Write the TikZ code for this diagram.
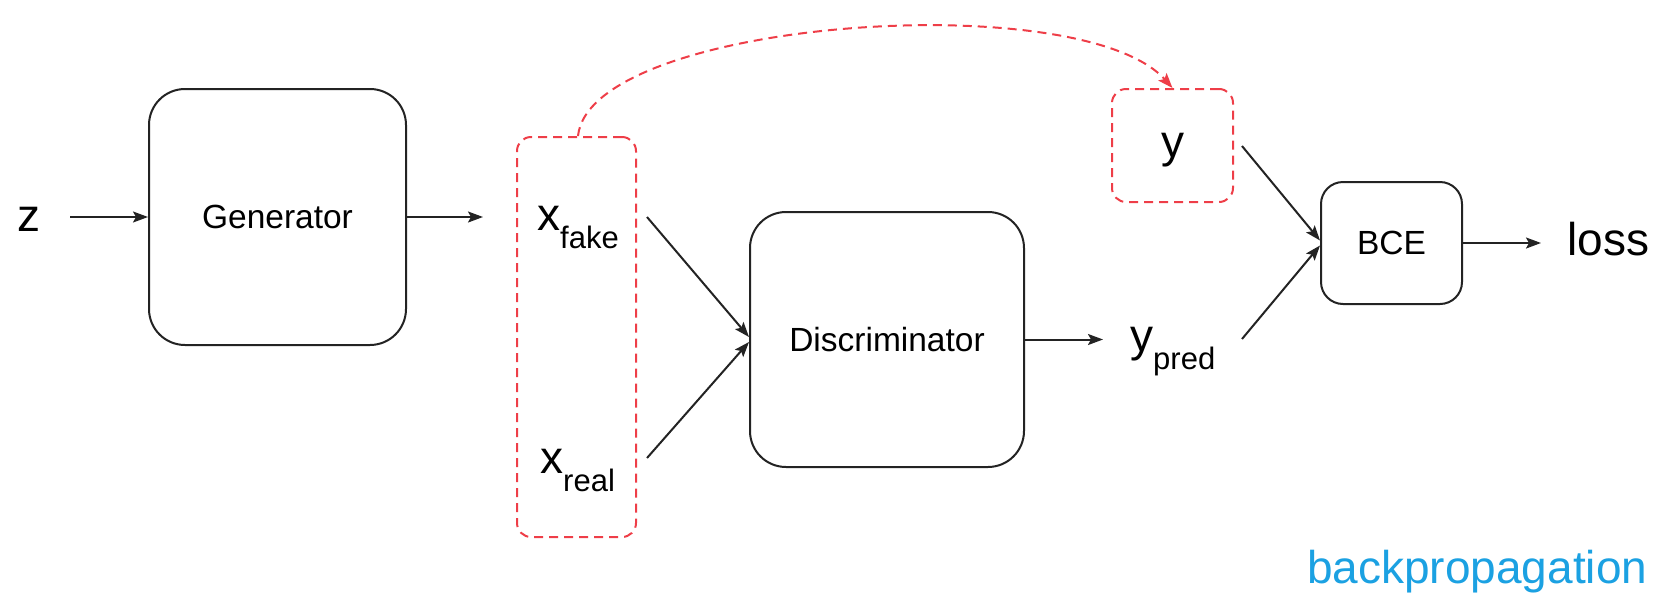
\documentclass[tikz,border=0pt]{standalone}
\usepackage{fontspec}
\setmainfont{Liberation Sans}
\usetikzlibrary{arrows.meta}
\definecolor{dred}{RGB}{238,62,72}
\definecolor{bpblue}{RGB}{27,161,226}
\definecolor{lin}{RGB}{35,35,35}
\newcommand{\bigtxt}{\fontsize{46}{52}\selectfont}
\newcommand{\subtxt}{\fontsize{31}{36}\selectfont}
\newcommand{\boxtxt}{\fontsize{33.5}{40}\selectfont}
\newcommand{\mysub}[1]{\raisebox{-18pt}{\subtxt #1}}
\begin{document}
\begin{tikzpicture}[x=1pt,y=-1pt,
  blk/.style={draw=lin, line width=2pt, rounded corners=#1, inner sep=0pt, text depth=0pt, font=\boxtxt},
  blk/.default=36pt,
  redbox/.style={draw=dred, line width=2pt, dash pattern=on 9pt off 6pt, rounded corners=14pt, inner sep=0pt},
  arr/.style={draw=lin, line width=2pt, -{Stealth[length=15pt,width=11pt,inset=3pt]}},
  redarr/.style={draw=dred, line width=2pt, dash pattern=on 9pt off 6pt, -{Stealth[length=15pt,width=11pt,inset=3pt]}},
  lbl/.style={inner sep=0pt, anchor=base west, font=\bigtxt}]
\useasboundingbox (0,0) rectangle (1658,603);

% boxes
\node[blk, minimum width=257pt, minimum height=256pt] (gen) at (277.5,217) {Generator};
\node[blk, minimum width=274pt, minimum height=255pt] (disc) at (887,339.5) {Discriminator};
\node[blk=22pt, minimum width=141pt, minimum height=122pt] (bce) at (1391.5,243) {BCE};
\node[redbox, minimum width=121pt, minimum height=113pt, text depth=0pt, font=\bigtxt] (ybox) at (1172.5,145.5) {y};
\node[redbox, minimum width=119pt, minimum height=400pt] (xbox) at (576.5,337) {};

% labels
\node[lbl] (z) at (17,231) {z};
\node[lbl] (xfake) at (537,230) {x\mysub{fake}};
\node[lbl] (xreal) at (540,473) {x\mysub{real}};
\node[lbl] (ypred) at (1130,351) {y\mysub{pred}};
\node[lbl] (loss) at (1567,255) {loss};
\node[lbl, text=bpblue] (bp) at (1307,583) {backpropagation};

% connector ends
\coordinate (zout) at (70,217);
\coordinate (xin) at (483,217);
\coordinate (fakeout) at (647,217);
\coordinate (realout) at (647,458);
\coordinate (ypredin) at (1103,339.5);
\coordinate (yout) at (1242,146);
\coordinate (ypredout) at (1242,339);
\coordinate (lossin) at (1541,243);

% connectors
\draw[arr] (zout) -- (gen.west);
\draw[arr] (gen.east) -- (xin);
\draw[arr] (fakeout) -- ([yshift=2.5pt]disc.west);
\draw[arr] (realout) -- ([yshift=-2.5pt]disc.west);
\draw[arr] (disc.east) -- (ypredin);
\draw[arr] (yout) -- ([yshift=2.5pt]bce.west);
\draw[arr] (ypredout) -- ([yshift=-2.5pt]bce.west);
\draw[arr] (bce.east) -- (lossin);
\draw[redarr] ([xshift=1.5pt]xbox.north) .. controls (590,20) and (1080,-15) .. (ybox.north);
\end{tikzpicture}
\end{document}
